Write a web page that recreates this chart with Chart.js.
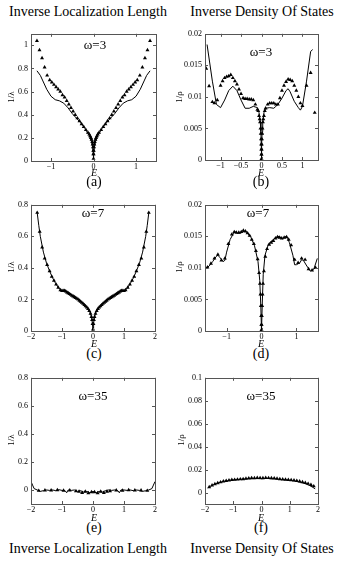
<!DOCTYPE html>
<html>
<head>
<meta charset="utf-8">
<script src="https://cdn.jsdelivr.net/npm/chart.js@4.4.1/dist/chart.umd.min.js"></script>
<style>
  html, body { margin: 0; padding: 0; background: #fff; }
  #page { position: relative; width: 348px; height: 561px; overflow: hidden; font-family: "Liberation Serif", "DejaVu Serif", serif; color: #000; }
  canvas { position: absolute; }
  .t { position: absolute; white-space: nowrap; transform: translate(-50%, -50%); }
  .big { font-size: 14px; }
  .om { font-size: 13px; }
  .e { font-size: 10px; font-style: italic; }
  .yl { font-size: 9px; transform: translate(-50%, -50%) rotate(-90deg); }
</style>
</head>
<body>
<div id="page">
  <canvas id="pa"></canvas><canvas id="pb"></canvas>
  <canvas id="pc"></canvas><canvas id="pd"></canvas>
  <canvas id="pe"></canvas><canvas id="pf"></canvas>

  <div class="t big" style="left:88px;top:12px">Inverse Localization Length</div>
  <div class="t big" style="left:262px;top:12px">Inverse Density Of States</div>
  <div class="t big" style="left:88px;top:549px">Inverse Localization Length</div>
  <div class="t big" style="left:262px;top:549px">Inverse Density Of States</div>

  <div class="t big" style="left:94px;top:182px">(a)</div>
  <div class="t big" style="left:261px;top:182px">(b)</div>
  <div class="t big" style="left:94px;top:354px">(c)</div>
  <div class="t big" style="left:261px;top:354px">(d)</div>
  <div class="t big" style="left:94px;top:528px">(e)</div>
  <div class="t big" style="left:261px;top:528px">(f)</div>

  <div class="t e" style="left:94px;top:172px">E</div>
  <div class="t e" style="left:261px;top:172px">E</div>
  <div class="t e" style="left:94px;top:343px">E</div>
  <div class="t e" style="left:261px;top:343px">E</div>
  <div class="t e" style="left:94px;top:517px">E</div>
  <div class="t e" style="left:261px;top:517px">E</div>

  <div class="t yl" style="left:11px;top:97px">1/λ</div>
  <div class="t yl" style="left:179px;top:97px">1/ρ</div>
  <div class="t yl" style="left:11px;top:267px">1/λ</div>
  <div class="t yl" style="left:179px;top:267px">1/ρ</div>
  <div class="t yl" style="left:11px;top:440px">1/λ</div>
  <div class="t yl" style="left:181px;top:440px">1/ρ</div>

  <div class="t om" style="left:95px;top:45px">ω=3</div>
  <div class="t om" style="left:261px;top:52px">ω=3</div>
  <div class="t om" style="left:93px;top:213px">ω=7</div>
  <div class="t om" style="left:258px;top:213px">ω=7</div>
  <div class="t om" style="left:93px;top:396px">ω=35</div>
  <div class="t om" style="left:261px;top:396px">ω=35</div>
</div>
<script>
// ---- data ----
// (a) omega=3, inverse localization length
const aLineE = [-1.33,-1.25,-1.2,-1.1,-1.0,-0.9,-0.8,-0.7,-0.6,-0.5,-0.4,-0.3,-0.2,-0.1,-0.05,-0.02,-0.005,0,0.005,0.02,0.05,0.1,0.2,0.3,0.4,0.5,0.6,0.7,0.8,0.9,1.0,1.1,1.2,1.25,1.33];
const aLine  = [0.78,0.74,0.70,0.62,0.56,0.53,0.52,0.50,0.46,0.41,0.37,0.33,0.28,0.22,0.17,0.12,0.06,0.02,0.06,0.12,0.17,0.22,0.28,0.33,0.37,0.41,0.46,0.50,0.52,0.53,0.56,0.62,0.70,0.74,0.78];
const aTriE = [-1.33,-1.27,-1.21,-1.15,-1.09,-1.03,-0.98,-0.93,-0.88,-0.83,-0.78,-0.73,-0.68,-0.63,-0.58,-0.53,-0.48,-0.43,-0.38,-0.33,-0.28,-0.23,-0.18,-0.13,-0.1,-0.08,-0.06,-0.045,-0.03,-0.02,-0.012,-0.006,-0.003,0,
               0.003,0.006,0.012,0.02,0.03,0.045,0.06,0.08,0.1,0.13,0.18,0.23,0.28,0.33,0.38,0.43,0.48,0.53,0.58,0.63,0.68,0.73,0.78,0.83,0.88,0.93,0.98,1.03,1.09,1.15,1.21,1.27,1.33];
const aTri  = [1.04,0.96,0.89,0.81,0.74,0.70,0.68,0.66,0.64,0.62,0.60,0.57,0.55,0.52,0.49,0.46,0.43,0.40,0.37,0.345,0.32,0.295,0.27,0.245,0.23,0.215,0.20,0.185,0.165,0.145,0.12,0.09,0.06,0.02,
               0.06,0.09,0.12,0.145,0.165,0.185,0.20,0.215,0.23,0.245,0.27,0.295,0.32,0.345,0.37,0.40,0.43,0.46,0.49,0.52,0.55,0.57,0.60,0.62,0.64,0.66,0.68,0.70,0.74,0.81,0.89,0.96,1.04];

// (b) omega=3, inverse density of states
const bLineE = [-1.33,-1.2,-1.1,-1.0,-0.9,-0.8,-0.7,-0.6,-0.5,-0.4,-0.3,-0.2,-0.1,-0.06,-0.03,-0.015,-0.006,0,0.006,0.015,0.03,0.06,0.1,0.2,0.3,0.35,0.4,0.5,0.6,0.65,0.7,0.8,0.9,0.95,1.0,1.1,1.2,1.25];
const bLine  = [0.0183,0.0125,0.0088,0.0083,0.0095,0.0110,0.0117,0.0110,0.0095,0.0082,0.0082,0.0085,0.0083,0.0075,0.0060,0.0045,0.0025,0.0,0.0025,0.0045,0.0060,0.0075,0.0082,0.0083,0.0082,0.0085,0.0088,0.0098,0.0110,0.0113,0.0108,0.0093,0.0083,0.0079,0.0085,0.0125,0.0172,0.0175];
const bTriE = [-1.35,-1.28,-1.2,-1.15,-1.08,-1.0,-0.95,-0.9,-0.85,-0.8,-0.75,-0.7,-0.65,-0.6,-0.55,-0.5,-0.45,-0.4,-0.35,-0.3,-0.25,-0.2,-0.15,-0.1,-0.08,-0.06,-0.045,-0.035,-0.025,-0.018,-0.012,-0.008,-0.005,-0.002,0,
               0.002,0.005,0.008,0.012,0.018,0.025,0.035,0.045,0.06,0.08,0.1,0.15,0.2,0.25,0.3,0.35,0.4,0.45,0.5,0.55,0.6,0.65,0.7,0.75,0.8,0.85,0.9,0.95,1.0,1.1,1.2,1.3];
const bTri  = [0.0145,0.0117,0.0092,0.0090,0.0095,0.0118,0.0125,0.0130,0.0132,0.0133,0.0135,0.0130,0.0125,0.0120,0.0112,0.0105,0.0098,0.0097,0.0097,0.0096,0.0096,0.0095,0.0088,0.0080,0.0078,0.0070,0.0065,0.0060,0.0050,0.0042,0.0033,0.0025,0.0017,0.0009,0.0002,
               0.0009,0.0017,0.0025,0.0033,0.0042,0.0050,0.0060,0.0065,0.0070,0.0078,0.0082,0.0088,0.0090,0.0090,0.0090,0.0088,0.0088,0.0098,0.0110,0.0118,0.0124,0.0128,0.0127,0.0125,0.0118,0.0110,0.0100,0.0090,0.0086,0.0118,0.0138,0.0075];

// (c) omega=7, inverse localization length
const cLineE = [-1.8,-1.75,-1.7,-1.6,-1.5,-1.4,-1.3,-1.2,-1.1,-1.0,-0.9,-0.8,-0.7,-0.6,-0.5,-0.4,-0.3,-0.2,-0.1,-0.05,-0.02,0,0.02,0.05,0.1,0.2,0.3,0.4,0.5,0.6,0.7,0.8,0.9,1.0,1.1,1.2,1.3,1.4,1.5,1.6,1.7,1.75,1.8];
const cLine  = [0.75,0.67,0.60,0.50,0.43,0.38,0.335,0.30,0.27,0.255,0.255,0.245,0.23,0.215,0.20,0.185,0.17,0.15,0.12,0.09,0.05,0.0,0.05,0.09,0.12,0.15,0.17,0.185,0.20,0.215,0.23,0.245,0.255,0.255,0.27,0.30,0.335,0.38,0.43,0.50,0.60,0.67,0.75];
const cTriE = [-1.8,-1.72,-1.64,-1.56,-1.48,-1.40,-1.33,-1.26,-1.19,-1.12,-1.05,-1.0,-0.96,-0.92,-0.88,-0.84,-0.80,-0.76,-0.72,-0.68,-0.64,-0.60,-0.56,-0.52,-0.48,-0.44,-0.40,-0.36,-0.32,-0.28,-0.24,-0.20,-0.16,-0.12,-0.08,-0.05,-0.03,-0.015,0,
               0.015,0.03,0.05,0.08,0.12,0.16,0.20,0.24,0.28,0.32,0.36,0.40,0.44,0.48,0.52,0.56,0.60,0.64,0.68,0.72,0.76,0.80,0.84,0.88,0.92,0.96,1.0,1.05,1.12,1.19,1.26,1.33,1.40,1.48,1.56,1.64,1.72,1.8];
const cTri  = [0.75,0.63,0.53,0.46,0.42,0.38,0.345,0.32,0.295,0.275,0.26,0.255,0.255,0.255,0.252,0.245,0.24,0.235,0.23,0.225,0.22,0.215,0.21,0.205,0.20,0.193,0.186,0.18,0.173,0.165,0.158,0.15,0.14,0.128,0.11,0.09,0.07,0.045,0.01,
               0.045,0.07,0.09,0.11,0.128,0.14,0.15,0.158,0.165,0.173,0.18,0.186,0.193,0.20,0.205,0.21,0.215,0.22,0.225,0.23,0.235,0.24,0.245,0.252,0.255,0.255,0.255,0.26,0.275,0.295,0.32,0.345,0.38,0.42,0.46,0.53,0.63,0.75];

// (d) omega=7, inverse density of states
const dLineE = [-1.6,-1.5,-1.4,-1.3,-1.25,-1.2,-1.1,-1.05,-1.0,-0.9,-0.8,-0.75,-0.7,-0.6,-0.5,-0.45,-0.4,-0.3,-0.2,-0.1,-0.05,-0.02,0,0.02,0.05,0.1,0.2,0.3,0.4,0.5,0.6,0.7,0.75,0.8,0.9,0.95,1.0,1.1,1.15,1.2,1.3,1.4,1.5,1.6];
const dLine  = [0.0099,0.0103,0.0110,0.0118,0.0120,0.0117,0.0110,0.0112,0.0125,0.0145,0.0155,0.0157,0.0155,0.0155,0.0158,0.0158,0.0155,0.0148,0.0135,0.0110,0.0080,0.0040,0.0,0.0040,0.0090,0.0120,0.0138,0.0143,0.0148,0.0150,0.0146,0.0150,0.0147,0.0140,0.0120,0.0105,0.0105,0.0108,0.0113,0.0112,0.0103,0.0095,0.0098,0.0115];
const dTriE = [-1.55,-1.45,-1.35,-1.25,-1.15,-1.05,-0.95,-0.85,-0.78,-0.72,-0.65,-0.58,-0.52,-0.46,-0.4,-0.34,-0.28,-0.22,-0.16,-0.11,-0.07,-0.045,-0.03,-0.018,-0.01,-0.004,0,
               0.004,0.01,0.018,0.03,0.045,0.07,0.11,0.16,0.22,0.28,0.34,0.4,0.46,0.52,0.58,0.65,0.72,0.78,0.85,0.95,1.05,1.15,1.25,1.35,1.45,1.55];
const dTri  = [0.0101,0.0107,0.0115,0.0121,0.0112,0.0115,0.0138,0.0153,0.0157,0.0156,0.0156,0.0157,0.0159,0.0158,0.0155,0.0151,0.0145,0.0138,0.0127,0.0114,0.0092,0.0075,0.0058,0.0040,0.0024,0.0010,0.0002,
               0.0010,0.0024,0.0040,0.0058,0.0075,0.0095,0.0118,0.0130,0.0137,0.0140,0.0143,0.0147,0.0149,0.0148,0.0147,0.0148,0.0149,0.0145,0.0136,0.0113,0.0108,0.0115,0.0113,0.0098,0.0096,0.0100];

// (e) omega=35, inverse localization length
const eLineE = [-2.0,-1.95,-1.9,-1.8,-1.7,-1.6,-1.5,-1.4,-1.3,-1.2,-1.1,-1.0,-0.9,-0.85,-0.8,-0.7,-0.6,-0.5,-0.4,-0.3,-0.2,-0.1,0,0.1,0.2,0.3,0.4,0.5,0.6,0.7,0.8,0.85,0.9,1.0,1.1,1.2,1.3,1.4,1.5,1.6,1.7,1.8,1.9,1.95,2.0];
const eLine  = [0.06,0.035,0.01,0.0,-0.01,-0.005,0.0,-0.003,0.0,-0.005,0.002,-0.003,-0.005,-0.02,0.0,-0.003,0.0,-0.01,-0.005,-0.015,-0.01,-0.02,-0.01,-0.02,-0.01,-0.015,-0.005,0.0,-0.003,0.0,-0.005,-0.02,0.0,0.0,-0.003,0.0,-0.005,0.0,-0.003,-0.01,-0.005,0.0,0.01,0.035,0.06];
const eTriE = [-1.75,-1.55,-1.35,-1.15,-0.95,-0.75,-0.55,-0.45,-0.35,-0.25,-0.15,-0.05,0.05,0.15,0.25,0.35,0.45,0.55,0.75,0.95,1.15,1.35,1.55,1.75];
const eTri  = [-0.005,-0.002,-0.002,0.0,-0.004,-0.002,-0.008,-0.012,-0.02,-0.012,-0.022,-0.015,-0.015,-0.022,-0.012,-0.02,-0.012,-0.008,-0.002,-0.004,0.0,-0.002,-0.002,-0.005];

// (f) omega=35, inverse density of states
const fLineE = [-1.9,-1.8,-1.7,-1.6,-1.5,-1.4,-1.3,-1.2,-1.1,-1.0,-0.9,-0.8,-0.7,-0.6,-0.5,-0.4,-0.3,-0.2,-0.1,0,0.1,0.2,0.3,0.4,0.5,0.6,0.7,0.8,0.9,1.0,1.1,1.2,1.3,1.4,1.5,1.6,1.7,1.8,1.9];
const fLine  = [0.0040,0.0055,0.0068,0.0078,0.0086,0.0093,0.0099,0.0104,0.0108,0.0110,0.0112,0.0114,0.0116,0.0118,0.0120,0.0118,0.0121,0.0122,0.0121,0.0120,0.0122,0.0123,0.0121,0.0119,0.0118,0.0116,0.0114,0.0112,0.0110,0.0107,0.0104,0.0099,0.0094,0.0088,0.0081,0.0072,0.0061,0.0048,0.0032];
const fTriE = [-1.85,-1.75,-1.65,-1.55,-1.45,-1.35,-1.25,-1.15,-1.05,-0.95,-0.85,-0.75,-0.65,-0.55,-0.45,-0.35,-0.25,-0.15,-0.05,0.05,0.15,0.25,0.35,0.45,0.55,0.65,0.75,0.85,0.95,1.05,1.15,1.25,1.35,1.45,1.55,1.65,1.75,1.85];
const fTri  = [0.0048,0.0062,0.0073,0.0083,0.0090,0.0097,0.0102,0.0107,0.0110,0.0112,0.0114,0.0116,0.0118,0.0121,0.0125,0.0127,0.0126,0.0128,0.0127,0.0126,0.0128,0.0127,0.0126,0.0125,0.0122,0.0117,0.0115,0.0113,0.0111,0.0109,0.0106,0.0102,0.0097,0.0091,0.0085,0.0077,0.0067,0.0055,0.0040];

// axis tick values
const aXTicks = [-1,0,1], aYTicks = [0,0.2,0.4,0.6,0.8,1];
const bXTicks = [-1,-0.5,0,0.5,1], bYTicks = [0,0.005,0.01,0.015,0.02];
const cXTicks = [-2,-1,0,1,2], cYTicks = [0,0.2,0.4,0.6,0.8];
const dXTicks = [-1,0,1], dYTicks = [0,0.005,0.01,0.015,0.02];
const eXTicks = [-2,-1,0,1,2], eYTicks = [0,0.2,0.4,0.6,0.8];
const fXTicks = [-2,-1,0,1,2], fYTicks = [0,0.02,0.04,0.06,0.08,0.1];

// ---- drawing ----
const LEFT = 30, BOTTOM = 14, TOP = 6, RIGHT = 6;
const tickFont = { family: "Liberation Serif", size: 8 };

const fmt = v => String(+v.toFixed(4)).replace('-', '\u2212');
const pts = (xs, ys) => xs.map((x, i) => ({ x: x, y: ys[i] }));

// box around the plot and small inward tick marks, Matlab style
const boxPlugin = {
  id: 'box',
  afterDraw(chart) {
    const { ctx, chartArea: ca, scales } = chart;
    ctx.save();
    ctx.strokeStyle = '#555';
    ctx.lineWidth = 1;
    ctx.strokeRect(Math.round(ca.left) + 0.5, Math.round(ca.top) + 0.5, Math.round(ca.right - ca.left), Math.round(ca.bottom - ca.top));
    ctx.beginPath();
    scales.x.ticks.forEach(t => {
      const px = Math.round(scales.x.getPixelForValue(t.value)) + 0.5;
      ctx.moveTo(px, ca.bottom); ctx.lineTo(px, ca.bottom - 3);
      ctx.moveTo(px, ca.top); ctx.lineTo(px, ca.top + 3);
    });
    scales.y.ticks.forEach(t => {
      const py = Math.round(scales.y.getPixelForValue(t.value)) + 0.5;
      ctx.moveTo(ca.left, py); ctx.lineTo(ca.left + 3, py);
      ctx.moveTo(ca.right, py); ctx.lineTo(ca.right - 3, py);
    });
    ctx.stroke();
    ctx.restore();
  }
};

function makePanel(id, box, xr, xTicks, yr, yTicks, lineE, lineY, triE, triY) {
  const cv = document.getElementById(id);
  const w = box.r - box.l + LEFT + RIGHT;
  const h = box.b - box.t + TOP + BOTTOM;
  cv.style.left = (box.l - LEFT) + 'px';
  cv.style.top = (box.t - TOP) + 'px';
  cv.style.width = w + 'px';
  cv.style.height = h + 'px';
  cv.width = w; cv.height = h;

  return new Chart(cv, {
    type: 'scatter',
    data: {
      datasets: [
        {
          data: pts(lineE, lineY),
          showLine: true,
          borderColor: '#000',
          borderWidth: 1,
          pointRadius: 0,
          tension: 0
        },
        {
          data: pts(triE, triY),
          pointStyle: 'triangle',
          pointRadius: 2.3,
          backgroundColor: '#000',
          borderColor: '#000',
          borderWidth: 0
        }
      ]
    },
    options: {
      responsive: false,
      animation: false,
      devicePixelRatio: 1,
      layout: { padding: { left: 0, top: TOP, right: RIGHT, bottom: 0 } },
      plugins: { legend: { display: false }, tooltip: { enabled: false } },
      scales: {
        x: {
          type: 'linear', min: xr[0], max: xr[1],
          grid: { display: false, drawTicks: false, tickLength: 0 },
          border: { display: false },
          afterBuildTicks: s => { s.ticks = xTicks.map(v => ({ value: v })); },
          afterFit: s => { s.height = BOTTOM; },
          ticks: { font: tickFont, color: '#000', padding: 1, maxRotation: 0, autoSkip: false, callback: fmt }
        },
        y: {
          type: 'linear', min: yr[0], max: yr[1],
          grid: { display: false, drawTicks: false, tickLength: 0 },
          border: { display: false },
          afterBuildTicks: s => { s.ticks = yTicks.map(v => ({ value: v })); },
          afterFit: s => { s.width = LEFT; },
          ticks: { font: tickFont, color: '#000', padding: 3, autoSkip: false, callback: fmt }
        }
      }
    },
    plugins: [boxPlugin]
  });
}

makePanel('pa', { l: 31, t: 32, r: 156, b: 161 }, [-1.47, 1.47], aXTicks, [0, 1.1], aYTicks, aLineE, aLine, aTriE, aTri);
makePanel('pb', { l: 205, t: 32, r: 318, b: 160 }, [-1.38, 1.38], bXTicks, [0, 0.02], bYTicks, bLineE, bLine, bTriE, bTri);
makePanel('pc', { l: 31, t: 203, r: 155, b: 331 }, [-2, 2], cXTicks, [0, 0.8], cYTicks, cLineE, cLine, cTriE, cTri);
makePanel('pd', { l: 205, t: 203, r: 318, b: 331 }, [-1.62, 1.62], dXTicks, [0, 0.02], dYTicks, dLineE, dLine, dTriE, dTri);
makePanel('pe', { l: 31, t: 376, r: 155, b: 504 }, [-2, 2], eXTicks, [-0.1, 0.8], eYTicks, eLineE, eLine, eTriE, eTri);
makePanel('pf', { l: 205, t: 376, r: 318, b: 504 }, [-2, 2], fXTicks, [-0.01, 0.1], fYTicks, fLineE, fLine, fTriE, fTri);
</script>
</body>
</html>
